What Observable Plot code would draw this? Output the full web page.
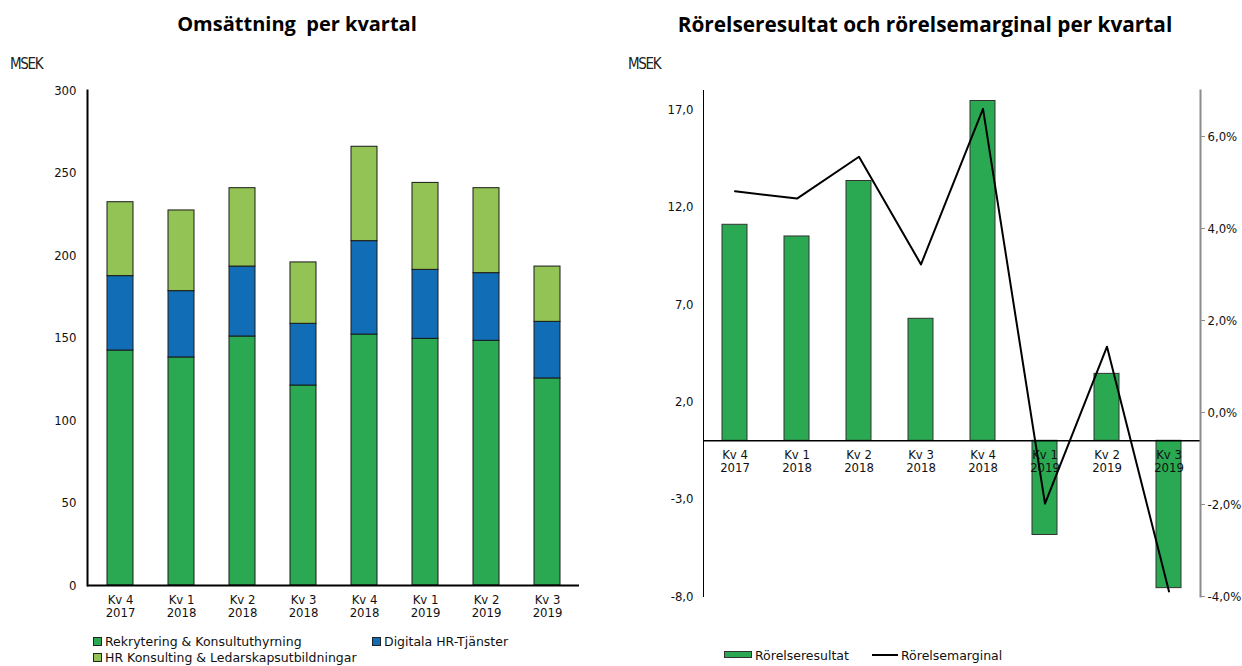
<!DOCTYPE html>
<html><head><meta charset="utf-8">
<script src="https://cdn.jsdelivr.net/npm/d3@7"></script>
<script src="https://cdn.jsdelivr.net/npm/@observablehq/plot@0.6"></script>
<style>
body{margin:0;background:#fff;}
#root{position:relative;width:1242px;height:666px;overflow:hidden;font-family:"DejaVu Sans Condensed","DejaVu Sans",sans-serif;color:#111;}
.title{position:absolute;top:10px;font-family:"Open Sans",sans-serif;font-weight:700;font-size:20px;line-height:28px;text-align:center;color:#000;white-space:pre;}
.unit{position:absolute;top:55px;font-family:"Liberation Sans Narrow","DejaVu Sans Condensed",sans-serif;font-size:15px;letter-spacing:-1.3px;color:#222;}
.chart{position:absolute;top:80px;}
.leg{position:absolute;font-family:"DejaVu Sans",sans-serif;font-size:12.5px;line-height:16px;white-space:nowrap;color:#111;}
.sq{display:inline-block;width:7px;height:7px;border:1px solid #222;margin-right:3px;vertical-align:0px;}
.rect{display:inline-block;width:26px;height:5px;border:1px solid #333;margin-right:3px;vertical-align:2px;}
.ln{display:inline-block;width:26px;height:0;border-top:2px solid #000;margin-right:3px;vertical-align:4px;}
</style></head>
<body><div id="root">
<div class="title" style="left:0;width:594px;">Omsättning  per kvartal</div>
<div class="title" style="left:620px;width:610px;font-size:20.8px;">Rörelseresultat och rörelsemarginal per kvartal</div>
<div class="unit" style="left:10px;">MSEK</div>
<div class="unit" style="left:628px;">MSEK</div>
<div id="left" class="chart" style="left:0;"></div>
<div id="right" class="chart" style="left:620px;"></div>
<div id="legL"></div>
<div id="legR"></div>
</div>
<script>
const categories = ["Kv 4\n2017", "Kv 1\n2018", "Kv 2\n2018", "Kv 3\n2018", "Kv 4\n2018", "Kv 1\n2019", "Kv 2\n2019", "Kv 3\n2019"];
const seriesNames = ["Rekrytering & Konsultuthyrning", "Digitala HR-Tjänster", "HR Konsulting & Ledarskapsutbildningar"];
const seriesColors = ["#2AA952", "#116EB6", "#93C354"];
const rekrytering = [142.4, 138.2, 150.9, 121.2, 152.1, 149.5, 148.3, 125.5];
const digitala = [45.1, 40.2, 42.4, 37.4, 56.6, 41.8, 41.0, 34.3];
const hrKonsulting = [44.8, 48.9, 47.5, 37.2, 57.2, 52.7, 51.5, 33.5];
const rorelseresultat = [11.1, 10.5, 13.35, 6.27, 17.46, -4.84, 3.44, -7.57];
const rorelsemarginal = [4.81, 4.65, 5.56, 3.22, 6.60, -1.98, 1.43, -3.89];
const leftTicks = [0, 50, 100, 150, 200, 250, 300];
const msekTicks = [-8, -3, 2, 7, 12, 17];
const pctTicks = [-4, -2, 0, 2, 4, 6];
const legendRight = ["Rörelseresultat", "Rörelsemarginal"];

const font = "'DejaVu Sans Condensed','DejaVu Sans',sans-serif";
const seriesValues = [rekrytering, digitala, hrKonsulting];
const stackData = [];
categories.forEach((q, i) => seriesNames.forEach((s, j) => stackData.push({q, s, v: seriesValues[j][i]})));

const left = Plot.plot({
  width: 600, height: 540,
  marginLeft: 87, marginRight: 21, marginTop: 10, marginBottom: 35,
  x: {domain: categories, paddingInner: 0.58, paddingOuter: 0.29, label: null},
  y: {domain: [0, 300], label: null},
  color: {domain: seriesNames, range: seriesColors},
  style: {fontFamily: font, fontSize: "13px", color: "#111", background: "transparent", overflow: "visible"},
  marks: [
    Plot.barY(stackData, {x: "q", y: "v", fill: "s", stroke: "#1a1a1a", strokeWidth: 1}),
    Plot.ruleY([0], {stroke: "#000", strokeWidth: 2}),
    Plot.frame({anchor: "left", stroke: "#000", strokeWidth: 2}),
    Plot.axisY({ticks: leftTicks, tickSize: 0, tickPadding: 11, label: null, tickFormat: d => String(d)}),
    Plot.axisX({tickSize: 0, tickPadding: 9, label: null, lineHeight: 1.0})
  ]
});
document.getElementById("left").appendChild(left);

const toY = p => -8 + (p + 4) * 26 / 11;
const fromY = y => Math.round((y + 8) * 11 / 26 - 4);
const resData = categories.map((q, i) => ({q, v: rorelseresultat[i]}));
const marData = categories.map((q, i) => ({q, p: rorelsemarginal[i]}));

const right = Plot.plot({
  width: 622, height: 540,
  marginLeft: 83, marginRight: 42, marginTop: 10, marginBottom: 24,
  x: {domain: categories, paddingInner: 0.59, paddingOuter: 0.295, axis: null},
  y: {domain: [-8, 18], label: null},
  style: {fontFamily: font, fontSize: "13px", color: "#111", background: "transparent", overflow: "visible"},
  marks: [
    Plot.barY(resData, {x: "q", y: "v", fill: seriesColors[0], stroke: "#333", strokeWidth: 1}),
    Plot.ruleY([0], {stroke: "#000", strokeWidth: 1.5}),
    Plot.frame({anchor: "left", stroke: "#000", strokeWidth: 1}),
    Plot.frame({anchor: "right", stroke: "#8c8c8c", strokeWidth: 2}),
    Plot.axisY({ticks: msekTicks, tickSize: 0, tickPadding: 10, label: null, tickFormat: d => d.toFixed(1).replace(".", ",")}),
    Plot.axisY(pctTicks.map(toY), {anchor: "right", tickSize: 4, tickPadding: 3, stroke: "#8c8c8c", label: null,
      tickFormat: d => fromY(d).toFixed(1).replace(".", ",") + "%"}),
    Plot.text(categories, {x: d => d, y: d => 0, dy: 9, lineAnchor: "top", lineHeight: 1.0, fill: "#111", fontSize: 13}),
    Plot.line(marData, {x: "q", y: d => toY(d.p), stroke: "#000", strokeWidth: 2})
  ]
});
document.getElementById("right").appendChild(right);

// legends
const legL = document.getElementById("legL");
const legPos = [[93, 634], [372, 634], [93, 650]];
seriesNames.forEach((s, j) => {
  const d = document.createElement("div");
  d.className = "leg";
  d.style.left = legPos[j][0] + "px"; d.style.top = legPos[j][1] + "px";
  d.innerHTML = `<span class="sq" style="background:${seriesColors[j]}"></span>${s}`;
  legL.appendChild(d);
});
const legR = document.getElementById("legR");
const r1 = document.createElement("div"); r1.className = "leg"; r1.style.left = "724px"; r1.style.top = "648px";
r1.innerHTML = `<span class="rect" style="background:${seriesColors[0]}"></span>${legendRight[0]}`;
const r2 = document.createElement("div"); r2.className = "leg"; r2.style.left = "872px"; r2.style.top = "648px";
r2.innerHTML = `<span class="ln"></span>${legendRight[1]}`;
legR.appendChild(r1); legR.appendChild(r2);
</script>
</body></html>
